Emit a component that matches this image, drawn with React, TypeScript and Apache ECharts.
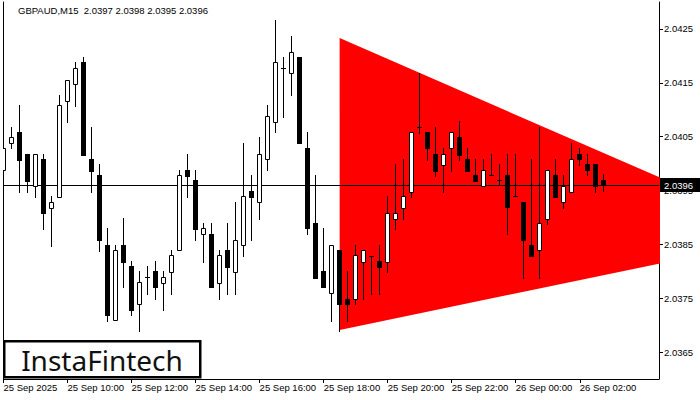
import React, { useEffect, useRef } from "react";
import * as echarts from "echarts";

// ---- data (GBPAUD M15, first bar 25 Sep 08:00) ----
const opens = [
  2.03988, 2.04038, 2.04059, 2.04017, 2.03958, 2.04008, 2.03918, 2.03938, 2.04117, 2.04147,
  2.04189, 2.04008, 2.03979, 2.03849, 2.03709, 2.03849, 2.03809, 2.03739, 2.03789, 2.03801,
  2.03779, 2.03799, 2.03839, 2.03988, 2.03969, 2.03869, 2.03869, 2.03779, 2.0384, 2.03799,
  2.03849, 2.03949, 2.03928, 2.04008, 2.04078, 2.04177, 2.04168, 2.04198, 2.04028, 2.03889,
  2.03801, 2.03759, 2.03839, 2.03749, 2.03749, 2.03818, 2.03829, 2.03819, 2.03818, 2.03898,
  2.03918, 2.03948, 2.04067, 2.04059, 2.04018, 2.03998, 2.04028, 2.04049, 2.04008, 2.03978,
  2.03958, 2.03978, 2.03969, 2.03978, 2.03939, 2.03928, 2.03849, 2.03839, 2.03898, 2.03978,
  2.03928, 2.03948, 2.04018, 2.03999, 2.03999, 2.0397,
];
const highs = [
  2.04038, 2.04068, 2.04109, 2.04017, 2.04017, 2.04017, 2.0394, 2.04127, 2.04156, 2.04189,
  2.04198, 2.04068, 2.04, 2.03881, 2.03849, 2.03899, 2.03819, 2.03801, 2.0381, 2.03819,
  2.03801, 2.0384, 2.03988, 2.04017, 2.03988, 2.03889, 2.03889, 2.0384, 2.03889, 2.03929,
  2.04038, 2.03978, 2.04049, 2.04109, 2.04267, 2.04198, 2.04237, 2.04198, 2.04058, 2.03978,
  2.0388, 2.03849, 2.03839, 2.03801, 2.03849, 2.03839, 2.03829, 2.03849, 2.0394, 2.03999,
  2.04008, 2.04059, 2.04168, 2.04059, 2.04067, 2.04029, 2.04059, 2.04079, 2.04029, 2.04008,
  2.04008, 2.04018, 2.03999, 2.04018, 2.04018, 2.03928, 2.04008, 2.04068, 2.03988, 2.04008,
  2.03978, 2.04038, 2.04028, 2.04018, 2.03999, 2.0398,
];
const lows = [
  2.03977, 2.04028, 2.03948, 2.03948, 2.03938, 2.03879, 2.03847, 2.03938, 2.04078, 2.04107,
  2.04016, 2.03947, 2.03838, 2.03708, 2.03709, 2.0377, 2.03719, 2.0369, 2.03758, 2.03749,
  2.03729, 2.03758, 2.03839, 2.03938, 2.03859, 2.03818, 2.0377, 2.03749, 2.03758, 2.03758,
  2.03829, 2.03859, 2.03898, 2.03988, 2.04058, 2.04087, 2.04127, 2.04038, 2.03869, 2.03788,
  2.0377, 2.03708, 2.0369, 2.03708, 2.03739, 2.03749, 2.03758, 2.03758, 2.03799, 2.03878,
  2.03898, 2.03938, 2.04057, 2.04007, 2.03977, 2.03948, 2.03987, 2.04007, 2.03987, 2.03968,
  2.03958, 2.03978, 2.0396, 2.03869, 2.03939, 2.03788, 2.03829, 2.03788, 2.03888, 2.03938,
  2.03918, 2.03948, 2.03998, 2.03978, 2.03948, 2.0395,
];
const closes = [
  2.04028, 2.04049, 2.04007, 2.03968, 2.04017, 2.03909, 2.03928, 2.04109, 2.04156, 2.04177,
  2.04016, 2.03987, 2.03859, 2.03719, 2.03839, 2.03818, 2.03729, 2.0378, 2.03789, 2.0377,
  2.03789, 2.0383, 2.03978, 2.03977, 2.03879, 2.0388, 2.0377, 2.0383, 2.03808, 2.03859,
  2.03939, 2.03938, 2.04017, 2.04088, 2.04188, 2.04177, 2.04207, 2.04038, 2.0388, 2.03788,
  2.0377, 2.03849, 2.03739, 2.03739, 2.0383, 2.03839, 2.03829, 2.03808, 2.03909, 2.03909,
  2.0394, 2.04059, 2.04067, 2.04028, 2.03987, 2.04018, 2.04059, 2.04016, 2.03987, 2.03968,
  2.03988, 2.03978, 2.03969, 2.03919, 2.03939, 2.03859, 2.03829, 2.03889, 2.03988, 2.03938,
  2.03958, 2.04008, 2.04008, 2.03988, 2.03958, 2.0396,
];

// symmetrical triangle pattern (bar index, price)
const triangleBars = [42, 42, 98.7];
const trianglePrices = [2.04233, 2.03691, 2.03866];

// axes
const xTickBars = [0, 8, 16, 24, 32, 40, 48, 56, 64, 72];
const xTickLabels = [
  "25 Sep 2025", "25 Sep 10:00", "25 Sep 12:00", "25 Sep 14:00", "25 Sep 16:00",
  "25 Sep 18:00", "25 Sep 20:00", "25 Sep 22:00", "26 Sep 00:00", "26 Sep 02:00",
];
const yTicks = [2.0365, 2.0375, 2.0385, 2.0395, 2.0405, 2.0415, 2.0425];
const yMin = 2.036;
const yMax = 2.043;
const xMax = 81.9;

const symbolTitle = "GBPAUD,M15";
const lastO = 2.0397, lastH = 2.0398, lastL = 2.0395, lastC = 2.0396;

const FONT = "Liberation Sans";

export default function App() {
  const ref = useRef<HTMLDivElement>(null);

  useEffect(() => {
    if (!ref.current) return;
    const chart = echarts.init(ref.current, undefined, { renderer: "svg" });

    const candleData = opens.map((o, i) => [i, o, closes[i], lows[i], highs[i]]);
    const triData = triangleBars.map((b, i) => [b, trianglePrices[i]]);

    const option: any = {
      animation: false,
      backgroundColor: "#ffffff",
      textStyle: { fontFamily: FONT },
      grid: { left: 3.5, right: 41, top: 2, bottom: 21, show: false },
      xAxis: {
        type: "value",
        min: 0,
        max: xMax,
        splitLine: { show: false },
        axisLine: { show: true, onZero: false, lineStyle: { color: "#000", width: 1 } },
        axisTick: { show: true, customValues: xTickBars, length: 4, lineStyle: { color: "#000" } },
        axisLabel: {
          show: true,
          customValues: xTickBars,
          showMinLabel: true,
          showMaxLabel: true,
          formatter: (v: number) => {
            const k = xTickBars.indexOf(Math.round(v));
            return k >= 0 ? xTickLabels[k] : "";
          },
          align: "left",
          margin: 3,
          color: "#000",
          fontSize: 9.5,
          fontFamily: FONT,
        },
      },
      yAxis: [
        {
          type: "value",
          position: "right",
          min: yMin,
          max: yMax,
          scale: true,
          splitLine: { show: false },
          axisLine: { show: true, onZero: false, lineStyle: { color: "#000", width: 1 } },
          axisTick: { show: true, customValues: yTicks, length: 4, lineStyle: { color: "#000" } },
          axisLabel: {
            show: true,
            customValues: yTicks,
            formatter: (v: number) => v.toFixed(4),
            margin: 5,
            color: "#000",
            fontSize: 9.5,
            fontFamily: FONT,
          },
        },
        {
          type: "value",
          position: "left",
          min: yMin,
          max: yMax,
          scale: true,
          splitLine: { show: false },
          axisLine: { show: true, onZero: false, lineStyle: { color: "#000", width: 1 } },
          axisTick: { show: false },
          axisLabel: { show: false },
        },
      ],
      graphic: [
        {
          type: "text",
          left: 18,
          top: 5,
          style: {
            text: `${symbolTitle}  ${lastO.toFixed(4)} ${lastH.toFixed(4)} ${lastL.toFixed(4)} ${lastC.toFixed(4)}`,
            fill: "#000",
            font: `9.5px '${FONT}'`,
          },
        },
        {
          type: "group",
          left: 3,
          top: 340,
          children: [
            {
              type: "rect",
              shape: { x: 1.25, y: 1.25, width: 196, height: 36 },
              style: { fill: "#fff", stroke: "#000", lineWidth: 2.5 },
            },
            {
              type: "text",
              style: {
                text: "InstaFintech",
                x: 99,
                y: 20,
                align: "center",
                verticalAlign: "middle",
                fill: "#111",
                font: "28px 'Noto Sans'",
              },
            },
          ],
          z: 100,
        },
      ],
      series: [
        {
          type: "custom",
          name: "triangle",
          coordinateSystem: "cartesian2d",
          clip: true,
          z: 1,
          silent: true,
          data: triData,
          encode: { x: 0, y: 1 },
          renderItem: (params: any, api: any) => {
            if (params.dataIndex !== 0) return null;
            const pts = triData.map((d) => api.coord(d));
            return {
              type: "polygon",
              shape: { points: pts },
              style: { fill: "#ff0000", stroke: "none" },
            };
          },
        },
        {
          type: "custom",
          name: "price",
          coordinateSystem: "cartesian2d",
          clip: false,
          z: 2,
          silent: true,
          data: [[0, lastC]],
          encode: { x: 0, y: 1 },
          renderItem: (params: any, api: any) => {
            const cs = params.coordSys;
            const p = api.coord([0, api.value(1)]);
            const y = Math.round(p[1]) + 0.5;
            const xr = cs.x + cs.width;
            return {
              type: "group",
              children: [
                {
                  type: "line",
                  shape: { x1: cs.x, y1: y, x2: xr, y2: y },
                  style: { stroke: "#000", lineWidth: 1 },
                },
                {
                  type: "rect",
                  shape: { x: xr + 1, y: y - 7.5, width: 41, height: 14 },
                  style: { fill: "#000" },
                  z2: 10,
                },
                {
                  type: "text",
                  style: {
                    text: api.value(1).toFixed(4),
                    x: xr + 5,
                    y: y,
                    verticalAlign: "middle",
                    align: "left",
                    fill: "#fff",
                    font: `9.5px '${FONT}'`,
                  },
                  z2: 11,
                },
              ],
            };
          },
        },
        {
          type: "custom",
          name: "candles",
          coordinateSystem: "cartesian2d",
          clip: true,
          z: 3,
          silent: true,
          data: candleData,
          encode: { x: 0, y: [1, 2, 3, 4] },
          renderItem: (params: any, api: any) => {
            const i = api.value(0);
            const o = api.value(1);
            const c = api.value(2);
            const l = api.value(3);
            const h = api.value(4);
            const pO = api.coord([i, o]);
            const pC = api.coord([i, c]);
            const pH = api.coord([i, h]);
            const pL = api.coord([i, l]);
            const x = Math.floor(pO[0]);
            const yo = Math.round(pO[1]);
            const yc = Math.round(pC[1]);
            const yh = Math.round(pH[1]);
            const yl = Math.round(pL[1]);
            const children: any[] = [
              {
                type: "line",
                shape: { x1: x + 0.5, y1: yh, x2: x + 0.5, y2: yl + 1 },
                style: { stroke: "#000", lineWidth: 1 },
              },
            ];
            if (Math.abs(o - c) < 1e-7) {
              children.push({
                type: "line",
                shape: { x1: x - 2, y1: yo + 0.5, x2: x + 3, y2: yo + 0.5 },
                style: { stroke: "#000", lineWidth: 1 },
              });
            } else if (c > o) {
              children.push({
                type: "rect",
                shape: { x: x - 1.5, y: yc + 0.5, width: 4, height: Math.max(1, yo - yc) },
                style: { fill: "#fff", stroke: "#000", lineWidth: 1 },
              });
            } else {
              children.push({
                type: "rect",
                shape: { x: x - 2, y: yo, width: 5, height: Math.max(2, yc - yo + 1) },
                style: { fill: "#000", stroke: "none" },
              });
            }
            return { type: "group", children };
          },
        },
      ],
    };

    chart.setOption(option);
    return () => chart.dispose();
  }, []);

  return (
    <div
      ref={ref}
      style={{ position: "absolute", left: 0, top: 0, width: 700, height: 400, background: "#fff" }}
    />
  );
}
